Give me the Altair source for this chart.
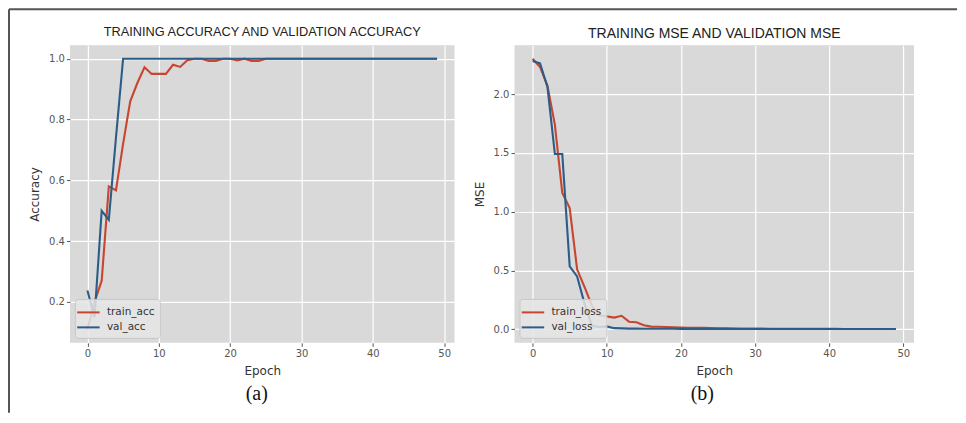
import altair as alt
import pandas as pd

epochs = list(range(50))

train_acc = [0.11, 0.20, 0.27, 0.58, 0.567, 0.72, 0.86, 0.92, 0.972, 0.95,
             0.95, 0.95, 0.98, 0.973, 0.995, 1.0, 1.0, 0.993, 0.993, 1.0,
             1.0, 0.994, 1.0, 0.993, 0.993] + [1.0] * 25
val_acc = [0.238, 0.15, 0.50, 0.47, 0.74] + [1.0] * 45

train_loss = [2.30, 2.23, 2.07, 1.74, 1.16, 1.03, 0.51, 0.36, 0.20, 0.12,
              0.11, 0.10, 0.115, 0.065, 0.06, 0.034, 0.023, 0.022, 0.020, 0.017,
              0.015, 0.013, 0.012, 0.012, 0.011, 0.009, 0.008, 0.007, 0.007, 0.006,
              0.006, 0.006, 0.005, 0.005, 0.005, 0.005, 0.004, 0.004, 0.004, 0.004,
              0.004, 0.004, 0.003, 0.003, 0.003, 0.003, 0.003, 0.003, 0.003, 0.003]
val_loss = [2.28, 2.26, 2.06, 1.49, 1.49, 0.535, 0.45, 0.22, 0.03, 0.02,
            0.025, 0.010, 0.008, 0.006, 0.006, 0.005, 0.005, 0.005, 0.005, 0.005,
            0.004, 0.004, 0.004, 0.004, 0.004, 0.004, 0.004, 0.004, 0.003, 0.003,
            0.003, 0.003, 0.003, 0.003, 0.003, 0.003, 0.003, 0.003, 0.003, 0.003,
            0.003, 0.003, 0.003, 0.003, 0.003, 0.003, 0.003, 0.003, 0.003, 0.003]

acc_names = ["train_acc", "val_acc"]
loss_names = ["train_loss", "val_loss"]
x_ticks = [0, 10, 20, 30, 40, 50]
acc_ticks = [0.2, 0.4, 0.6, 0.8, 1.0]
loss_ticks = [0.0, 0.5, 1.0, 1.5, 2.0]

RED = "#c8452f"
BLUE = "#2b5d88"
GRAY_BG = "#d9d9d9"
TICK_FONT = "DejaVu Sans"


def long_table(names, series):
    rows = []
    for name, vals in zip(names, series):
        for e, v in zip(epochs, vals):
            rows.append({"epoch": e, "value": v, "series": name})
    return pd.DataFrame(rows)


acc_df = long_table(acc_names, [train_acc, val_acc])
loss_df = long_table(loss_names, [train_loss, val_loss])


def axis(title, values, fmt):
    return alt.Axis(
        title=title, values=values, format=fmt, grid=True, gridColor="white",
        gridWidth=1.2, domain=False, ticks=True, tickColor="#555555", tickSize=3.5,
        labelColor="#555555", labelFont=TICK_FONT, labelFontSize=10, labelPadding=2,
        titleColor="#333333", titleFont=TICK_FONT, titleFontSize=12,
        titleFontWeight="normal", titlePadding=7,
    )


def legend():
    return alt.Legend(
        title=None, orient="bottom-left", offset=5, fillColor="rgba(229,229,229,0.85)",
        strokeColor="#c8c8c8", cornerRadius=3, padding=5,
        symbolType="M-1.5,0L1.5,0", symbolSize=225, symbolStrokeWidth=2,
        labelOffset=10, labelFont=TICK_FONT, labelFontSize=10.5,
        labelColor="#333333", rowPadding=1,
    )


def panel(df, names, ydomain, yticks, ytitle, title, title_size, w, title_y,
          label, label_x, frame):
    xenc = alt.X("epoch:Q", scale=alt.Scale(domain=[-2.45, 51.45], nice=False, zero=False),
                 axis=axis("Epoch", x_ticks, "d"))
    yenc = alt.Y("value:Q", scale=alt.Scale(domain=ydomain, nice=False, zero=False),
                 axis=axis(ytitle, yticks, ".1f"))
    lines = alt.Chart(df).mark_line(strokeWidth=2.1).encode(
        x=xenc, y=yenc,
        color=alt.Color("series:N", scale=alt.Scale(domain=names, range=[RED, BLUE]),
                        legend=legend()),
        order=alt.Order("epoch:Q"),
    )
    one = alt.Data(values=[{"k": 1}])
    ttl = alt.Chart(one).mark_text(font="Liberation Sans", fontSize=title_size,
                                   color="#222222", align="center",
                                   baseline="middle").encode(
        x=alt.value(w / 2), y=alt.value(title_y), text=alt.value(title))
    lab = alt.Chart(one).mark_text(font="Liberation Serif", fontSize=20, color="#111111",
                                   align="center", baseline="middle").encode(
        x=alt.value(label_x), y=alt.value(349), text=alt.value(label))
    layers = [lines, ttl, lab]
    if frame:
        top = alt.Chart(one).mark_rule(color="#555555", strokeWidth=2).encode(
            x=alt.value(-61), x2=alt.value(888), y=alt.value(-36))
        left = alt.Chart(one).mark_rule(color="#555555", strokeWidth=2).encode(
            x=alt.value(-61), y=alt.value(-36), y2=alt.value(368))
        layers += [top, left]
    return alt.layer(*layers).properties(width=w, height=298)


left_chart = panel(acc_df, acc_names, [0.0655, 1.0445], acc_ticks, "Accuracy",
                   "TRAINING ACCURACY AND VALIDATION ACCURACY", 12.8, 385, -13,
                   "(a)", 187, True)
right_chart = panel(loss_df, loss_names, [-0.115, 2.415], loss_ticks, "MSE",
                    "TRAINING MSE AND VALIDATION MSE", 14, 400, -11,
                    "(b)", 188, False)

chart = alt.hconcat(left_chart, right_chart, spacing=60, bounds="flush").resolve_scale(
    color="independent", x="independent", y="independent"
).properties(padding=0).configure_view(fill=GRAY_BG, stroke=None)

chart.save("out.html", embed_options={"renderer": "svg", "actions": False})
